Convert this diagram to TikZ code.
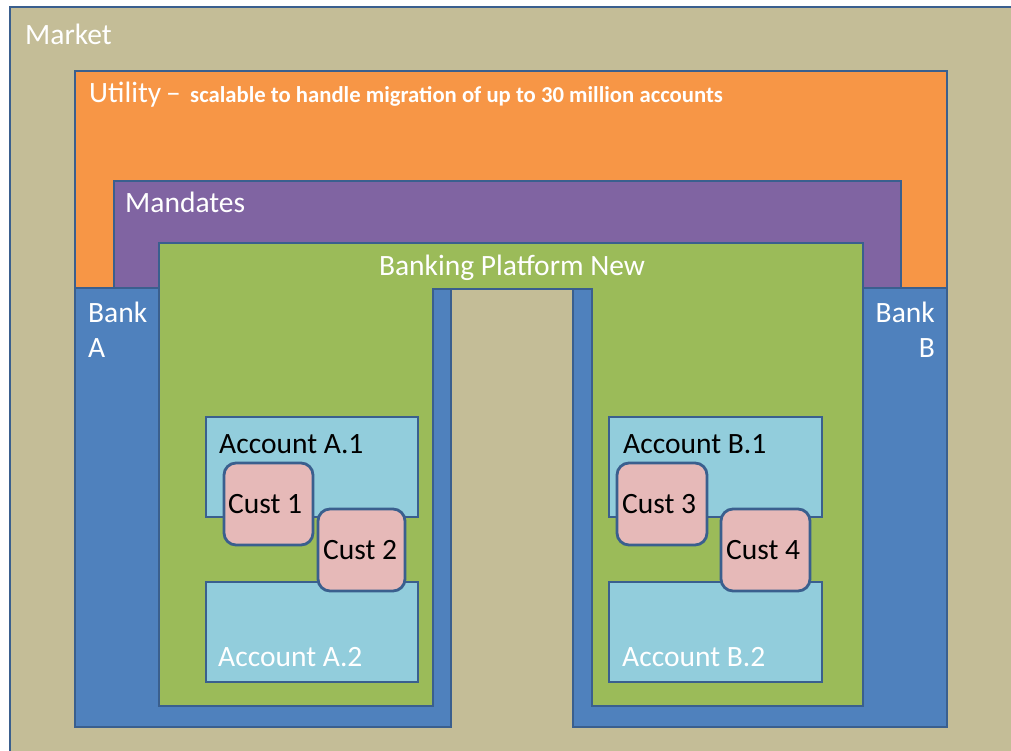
\documentclass[tikz,border=0pt]{standalone}
\usepackage{fontspec}
\setmainfont{Carlito}
\definecolor{edge}{HTML}{3A5F8E}
\definecolor{marketfill}{HTML}{C4BD97}
\definecolor{utilfill}{HTML}{F79646}
\definecolor{mandfill}{HTML}{8064A2}
\definecolor{bankfill}{HTML}{4F81BD}
\definecolor{platfill}{HTML}{9BBB59}
\definecolor{accfill}{HTML}{92CDDC}
\definecolor{custfill}{HTML}{E6B9B8}
\tikzset{
  box/.style={draw=edge, line width=2.8pt, rectangle, inner sep=0pt, outer sep=0pt, anchor=north west},
  custbox/.style={box, rounded corners=12pt, fill=custfill},
  accbox/.style={box, fill=accfill},
  lbl/.style={inner sep=0pt, font=\fontsize{29.5}{35}\selectfont, text=white},
  dark/.style={text=black},
}
\begin{document}
\begin{tikzpicture}[x=1pt, y=-1pt]
  \useasboundingbox (0,0) rectangle (1011,751);
  \fill[white] (0,0) rectangle (1011,751);
  \begin{scope}
    \clip (0,0) rectangle (1011,751);
    % market area
    \node[box, fill=marketfill, minimum width=1030pt, minimum height=770pt] (market) at (10,7) {};
    % utility and mandates layers
    \node[box, fill=utilfill, minimum width=872pt, minimum height=217pt] (utility) at (75,71) {};
    \node[box, fill=mandfill, minimum width=787pt, minimum height=107pt] (mandates) at (114,181) {};
    % banks
    \node[box, fill=bankfill, minimum width=376pt, minimum height=439pt] (bankA) at (75,288) {};
    \node[box, fill=bankfill, minimum width=374pt, minimum height=439pt] (bankB) at (573,288) {};
    % banking platform (inverted U)
    \draw[draw=edge, line width=2.8pt, fill=platfill, line join=miter]
      (159,243) -- (863,243) -- (863,706) -- (592,706) -- (592,289)
      -- (433,289) -- (433,706) -- (159,706) -- cycle;
    % accounts
    \node[accbox, minimum width=212pt, minimum height=100pt] (accA1) at (206,417) {};
    \node[accbox, minimum width=212pt, minimum height=100pt] (accA2) at (206,582) {};
    \node[accbox, minimum width=213pt, minimum height=100pt] (accB1) at (609,417) {};
    \node[accbox, minimum width=213pt, minimum height=100pt] (accB2) at (609,582) {};
    % customers
    \node[custbox, minimum width=89pt, minimum height=82pt] (cust1) at (224,463) {};
    \node[custbox, minimum width=87pt, minimum height=82pt] (cust2) at (318,509) {};
    \node[custbox, minimum width=90pt, minimum height=82pt] (cust3) at (617,463) {};
    \node[custbox, minimum width=89pt, minimum height=82pt] (cust4) at (721,509) {};
  \end{scope}
  % labels
  \node[lbl, anchor=base west] (marketlbl) at (25,45) {Market};
  \node[lbl, anchor=base west] (utillbl) at (89,103) {Utility\,–};
  \node[lbl, anchor=base west, font=\fontsize{22.7}{27}\selectfont\bfseries] (utilnote) at (190,103)
    {scalable to handle migration of up to 30 million accounts};
  \node[lbl, anchor=base west] (mandlbl) at (125,213) {Mandates};
  \node[lbl, anchor=base] (platlbl) at (512,276) {Banking Platform New};
  \node[lbl, anchor=base west] (bankAlbl) at (88,322) {Bank};
  \node[lbl, anchor=base west] (bankAlbl2) at (88,357) {A};
  \node[lbl, anchor=base east] (bankBlbl) at (935,322) {Bank};
  \node[lbl, anchor=base east] (bankBlbl2) at (935,357) {B};
  \node[lbl, dark, anchor=base west] (accA1lbl) at (219,453) {Account A.1};
  \node[lbl, anchor=base west] (accA2lbl) at (218,666) {Account A.2};
  \node[lbl, dark, anchor=base west] (accB1lbl) at (623,453) {Account B.1};
  \node[lbl, anchor=base west] (accB2lbl) at (622,666) {Account B.2};
  \node[lbl, dark, anchor=base west] (cust1lbl) at (228,513) {Cust 1};
  \node[lbl, dark, anchor=base west] (cust2lbl) at (323,559) {Cust 2};
  \node[lbl, dark, anchor=base west] (cust3lbl) at (622,513) {Cust 3};
  \node[lbl, dark, anchor=base west] (cust4lbl) at (726,559) {Cust 4};
\end{tikzpicture}
\end{document}
